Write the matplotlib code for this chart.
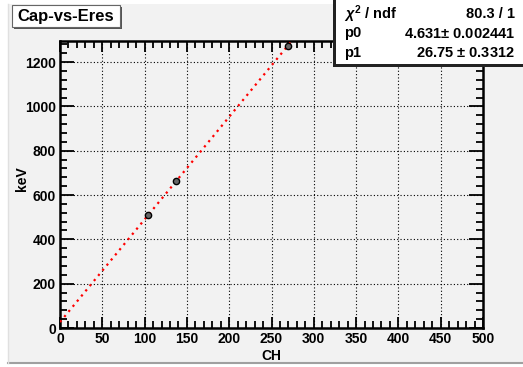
import numpy as np
import matplotlib
matplotlib.use("Agg")
import matplotlib.pyplot as plt
from matplotlib.patches import Rectangle
from matplotlib.ticker import MultipleLocator

plt.rcParams['font.family'] = ['Liberation Sans', 'DejaVu Sans']
plt.rcParams['font.weight'] = 'bold'
plt.rcParams['mathtext.fontset'] = 'custom'
plt.rcParams['mathtext.rm'] = 'Liberation Sans:bold'
plt.rcParams['mathtext.it'] = 'Liberation Sans:italic:bold'

#%% data
ch = [104.6, 137.1, 269.4]
kev = [511.0, 661.7, 1274.5]
p0, p0_err = 4.631, 0.002441
p1, p1_err = 26.75, 0.3312
chi2_text = "80.3 / 1"
title = "Cap-vs-Eres"

#%% figure
W, H = 523, 367
fig = plt.figure(figsize=(W / 100, H / 100), dpi=100)
fig.patch.set_facecolor("white")

# canvas pad background
fig.add_artist(Rectangle((8 / W, 1 - 363 / H), (W - 8) / W, 359 / H,
                         transform=fig.transFigure, facecolor="#f2f2f2",
                         edgecolor="none", zorder=-10))
fig.add_artist(plt.Line2D([8 / W, 1], [1 - 363 / H, 1 - 363 / H],
                          transform=fig.transFigure, color="#a0a0a0", lw=1.5))
fig.add_artist(plt.Line2D([8 / W, 8 / W], [1 - 363 / H, 1 - 4 / H],
                          transform=fig.transFigure, color="#e0e0e0", lw=1))

ax = fig.add_axes([60 / W, 1 - 328 / H, 423 / W, 287 / H])
ax.set_facecolor("#f2f2f2")
ax.set_xlim(0, 500)
ax.set_ylim(0, 1295)

xs = np.linspace(0, (1295 - p1) / p0, 200)
ax.plot(xs, p0 * xs + p1, color="red", lw=1.6, ls=(0, (1, 2)), zorder=3)
ax.plot(ch, kev, ls="none", marker="o", ms=4.5, mfc="#666666", mec="black",
        mew=1, zorder=4)

ax.xaxis.set_major_locator(MultipleLocator(50))
ax.xaxis.set_minor_locator(MultipleLocator(10))
ax.yaxis.set_major_locator(MultipleLocator(200))
ax.yaxis.set_minor_locator(MultipleLocator(40))
ax.tick_params(which="both", direction="in", top=True, right=True,
               labelsize=10, width=1.3, pad=3)
ax.tick_params(which="major", length=10)
ax.tick_params(which="minor", length=5)
ax.tick_params(axis="x", which="major", top=True, length=8)
for lab in ax.get_xticklabels() + ax.get_yticklabels():
    lab.set_fontweight("bold")
ax.grid(True, which="major", color="black", ls=(0, (1, 2)), lw=0.8)
for s in ax.spines.values():
    s.set_linewidth(1.8)

ax.set_xlabel("CH", fontsize=10, fontweight="bold")
ax.set_ylabel("keV", fontsize=10, fontweight="bold")
ax.xaxis.set_label_coords(0.5, -0.072)
ax.yaxis.set_label_coords(-0.074, 0.52)

# title box
fig.add_artist(Rectangle((14 / W, 1 - 29 / H), 108 / W, 22 / H,
                         transform=fig.transFigure, facecolor="#555555",
                         edgecolor="none"))
fig.add_artist(Rectangle((12 / W, 1 - 27 / H), 108 / W, 22 / H,
                         transform=fig.transFigure, facecolor="white",
                         edgecolor="#666666", lw=0.8))
fig.text(66 / W, 1 - 16 / H, title, ha="center", va="center",
         fontsize=12, fontweight="bold")

# stats box
fig.add_artist(Rectangle((333 / W, 1 - 67 / H), 190 / W, 67 / H,
                         transform=fig.transFigure, facecolor="#222222",
                         edgecolor="none"))
fig.add_artist(Rectangle((336 / W, 1 - 64 / H), 190 / W, 64 / H,
                         transform=fig.transFigure, facecolor="white",
                         edgecolor="none"))
rows = [(r"$\chi^2$ / ndf", chi2_text),
        ("p0", f"{p0:.3f}$\\pm$ {p0_err:g}"),
        ("p1", f"{p1:.2f} $\\pm$ {p1_err:g}")]
for i, (l, r) in enumerate(rows):
    yy = 1 - (14 + i * 19.5) / H
    fig.text(344 / W, yy, l, ha="left", va="center", fontsize=10.5,
             fontweight="bold")
    fig.text(515 / W, yy, r, ha="right", va="center", fontsize=10.5,
             fontweight="bold")

plt.savefig("out.png", dpi=100, facecolor=fig.get_facecolor())
